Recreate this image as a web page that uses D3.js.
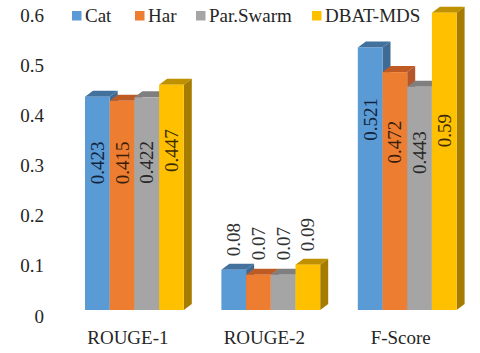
<!DOCTYPE html>
<html>
<head>
<meta charset="utf-8">
<script src="https://cdn.jsdelivr.net/npm/d3@7"></script>
<style>
  html, body { margin: 0; padding: 0; background: #fff; }
  svg { display: block; }
  text { font-family: "Liberation Serif", serif; fill: #262626; }
</style>
</head>
<body>
<div id="chart"></div>
<script>
// data
const CATEGORIES = ["ROUGE-1", "ROUGE-2", "F-Score"];
const SERIES = ["Cat", "Har", "Par.Swarm", "DBAT-MDS"];
const CAT_VALUES = [0.423, 0.08, 0.521];
const HAR_VALUES = [0.415, 0.07, 0.472];
const SWARM_VALUES = [0.422, 0.07, 0.443];
const DBAT_VALUES = [0.447, 0.09, 0.59];
const VALUE_LABELS = [
  ["0.423", "0.08", "0.521"],
  ["0.415", "0.07", "0.472"],
  ["0.422", "0.07", "0.443"],
  ["0.447", "0.09", "0.59"]
];
const Y_TICKS = [0, 0.1, 0.2, 0.3, 0.4, 0.5, 0.6];
const Y_TICK_LABELS = ["0", "0.1", "0.2", "0.3", "0.4", "0.5", "0.6"];

// layout and colours
const FRAME_WIDTH = 480;
const FRAME_HEIGHT = 353;
const BASE_Y = 310;
const DEPTH_X = 8;
const DEPTH_Y = 6;
const FONT_SIZE = 19;
const FRONT = ["#5B9BD5", "#ED7D31", "#A5A5A5", "#FFC000"];
const TOP = ["#41719C", "#BE5B25", "#7F7F7F", "#BF9000"];
const SIDE = ["#3F6A93", "#B5562A", "#7C7C7C", "#A67C00"];
const LABEL_FILL = ["#10233C", "#3A1D0A", "#262626", "#3A2C00"];
const LEGEND_X = [72, 135, 196, 312];
// how far each value label sits below its bar top (negative is above the bar)
const LABEL_GAP = [
  [66, -30, 72],
  [62, -31, 70],
  [65, -31, 66],
  [66, -30, 118]
];

const ALL_VALUES = [CAT_VALUES, HAR_VALUES, SWARM_VALUES, DBAT_VALUES];

const FRAME = d3.select("#chart")
  .append("svg")
    .attr("width", FRAME_WIDTH)
    .attr("height", FRAME_HEIGHT);

const X_GROUP = d3.scaleBand()
  .domain(CATEGORIES)
  .range([66.2, 475.4])
  .paddingInner(0.2757)
  .paddingOuter(0.1378);

const X_BAR = d3.scaleBand()
  .domain(d3.range(SERIES.length))
  .range([0, X_GROUP.bandwidth()]);

const Y_SCALE = d3.scaleLinear()
  .domain([0, 0.6])
  .range([BASE_Y, BASE_Y - 0.6 * 504]);

// tick labels sit on the back wall, so they are lower by the depth
const Y_AXIS_SCALE = d3.scaleLinear()
  .domain([0, 0.6])
  .range([316, 15]);

const yAxis = FRAME.append("g")
  .attr("transform", "translate(44,0)")
  .call(d3.axisLeft(Y_AXIS_SCALE)
    .tickValues(Y_TICKS)
    .tickSize(0)
    .tickPadding(0)
    .tickFormat((d, i) => Y_TICK_LABELS[i]));
yAxis.select(".domain").remove();
yAxis.selectAll("text")
  .attr("font-family", null)
  .style("font-size", FONT_SIZE + "px");

const xAxis = FRAME.append("g")
  .attr("transform", "translate(-6.5,330)")
  .call(d3.axisBottom(X_GROUP).tickSize(0).tickPadding(0));
xAxis.select(".domain").remove();
xAxis.selectAll("text")
  .attr("font-family", null)
  .style("font-size", FONT_SIZE + "px");

// one 3d bar per value: top, side, then front
ALL_VALUES.forEach((values, s) => {
  const bars = FRAME.append("g")
    .selectAll("g")
    .data(values)
    .enter()
    .append("g");

  const left = (d, i) => X_GROUP(CATEGORIES[i]) + X_BAR(s);
  const right = (d, i) => left(d, i) + X_BAR.bandwidth();

  bars.append("path")
    .attr("fill", TOP[s])
    .attr("d", (d, i) => d3.line()([
      [left(d, i), Y_SCALE(d)],
      [left(d, i) + DEPTH_X, Y_SCALE(d) - DEPTH_Y],
      [right(d, i) + DEPTH_X, Y_SCALE(d) - DEPTH_Y],
      [right(d, i), Y_SCALE(d)]
    ]) + "Z");

  bars.append("path")
    .attr("fill", SIDE[s])
    .attr("d", (d, i) => d3.line()([
      [right(d, i), Y_SCALE(d)],
      [right(d, i) + DEPTH_X, Y_SCALE(d) - DEPTH_Y],
      [right(d, i) + DEPTH_X, BASE_Y - DEPTH_Y],
      [right(d, i), BASE_Y]
    ]) + "Z");

  bars.append("rect")
    .attr("fill", FRONT[s])
    .attr("x", left)
    .attr("y", (d) => Y_SCALE(d))
    .attr("width", X_BAR.bandwidth())
    .attr("height", (d) => BASE_Y - Y_SCALE(d));
});

// value labels go last so a neighbouring bar never hides them
ALL_VALUES.forEach((values, s) => {
  FRAME.append("g")
    .selectAll("text")
    .data(values)
    .enter()
    .append("text")
      .attr("text-anchor", "middle")
      .attr("dominant-baseline", "central")
      .style("font-size", FONT_SIZE + "px")
      .style("fill", (d, i) => d < 0.2 ? "#333" : LABEL_FILL[s])
      .attr("transform", (d, i) => {
        const cx = X_GROUP(CATEGORIES[i]) + X_BAR(s) + X_BAR.bandwidth() / 2;
        const cy = Y_SCALE(d) + LABEL_GAP[s][i];
        return "translate(" + cx + "," + cy + ") rotate(-90)";
      })
      .text((d, i) => VALUE_LABELS[s][i]);
});

// legend
const legend = FRAME.append("g")
  .selectAll("g")
  .data(SERIES)
  .enter()
  .append("g")
    .attr("transform", (d, i) => "translate(" + LEGEND_X[i] + ",0)");

legend.append("rect")
  .attr("y", 11)
  .attr("width", 9.5)
  .attr("height", 9.5)
  .attr("fill", (d, i) => FRONT[i]);

legend.append("text")
  .attr("x", 13)
  .attr("y", 21.5)
  .style("font-size", FONT_SIZE + "px")
  .text((d) => d);
</script>
</body>
</html>
